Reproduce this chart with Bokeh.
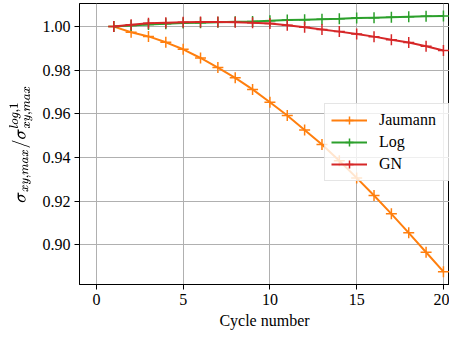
from bokeh.plotting import figure
from bokeh.models import Range1d, FixedTicker, Legend, CustomJSTickFormatter
from bokeh.embed import file_html
from bokeh.resources import INLINE

cycles = list(range(1, 21))
jaumann = [1.0000, 0.9974, 0.9955, 0.9928, 0.9896, 0.9856, 0.9812, 0.9765, 0.9712, 0.9653,
           0.9592, 0.9526, 0.9459, 0.9385, 0.9306, 0.9225, 0.9141, 0.9054, 0.8965, 0.8876]
log_ = [1.0000, 1.0005, 1.0010, 1.0013, 1.0016, 1.0018, 1.0020, 1.0022, 1.0024, 1.0027,
        1.0030, 1.0032, 1.0034, 1.0036, 1.0039, 1.0041, 1.0043, 1.0045, 1.0047, 1.0049]
gn = [1.0000, 1.0009, 1.0015, 1.0018, 1.0020, 1.0021, 1.0021, 1.0020, 1.0018, 1.0014,
      1.0006, 0.9997, 0.9987, 0.9977, 0.9966, 0.9954, 0.9940, 0.9927, 0.9910, 0.9890]
x_ticks = [0, 5, 10, 15, 20]
y_ticks = [0.90, 0.92, 0.94, 0.96, 0.98, 1.00]

FONT = "'Liberation Serif', serif"
FS = "16px"

p = figure(width=449, height=333, output_backend="svg", toolbar_location=None,
           x_range=Range1d(-0.975, 20.35), y_range=Range1d(0.8817, 1.0106),
           min_border_left=79, min_border_right=0, min_border_top=3, min_border_bottom=49)

p.outline_line_color = "black"
p.outline_line_width = 1
p.background_fill_color = "white"
p.border_fill_color = "white"

for ax in (p.xaxis[0], p.yaxis[0]):
    ax.major_label_text_font = FONT
    ax.major_label_text_font_size = FS
    ax.major_label_text_color = "black"
    ax.axis_label_text_font = FONT
    ax.axis_label_text_font_size = FS
    ax.axis_label_text_font_style = "normal"
    ax.axis_label_text_color = "black"
    ax.axis_line_color = "black"
    ax.major_tick_line_color = "black"
    ax.major_tick_out = 5
    ax.major_tick_in = 0
    ax.minor_tick_line_color = None
    ax.major_label_standoff = 4

p.xaxis.ticker = FixedTicker(ticks=x_ticks)
p.yaxis.ticker = FixedTicker(ticks=y_ticks)
p.yaxis.formatter = CustomJSTickFormatter(code="return tick.toFixed(2);")
p.xaxis.axis_label = "Cycle number"
p.xaxis.axis_label_standoff = 4
p.yaxis.axis_label = r"$$\sigma_{xy,max}/\sigma_{xy,max}^{log,1}$$"
p.yaxis.axis_label_standoff = 7

p.grid.grid_line_color = "#b0b0b0"
p.grid.grid_line_width = 1

series = [("Jaumann", jaumann, "#ff7f0e"), ("Log", log_, "#2ca02c"), ("GN", gn, "#d62728")]
items = []
for name, ys, col in series:
    r1 = p.line(cycles, ys, line_color=col, line_width=2)
    r2 = p.scatter(cycles, ys, marker="cross", size=11, line_color=col, line_width=1.5)
    items.append((name, [r1, r2]))

leg = Legend(items=items, location=(245, 103))
leg.label_text_font = FONT
leg.label_text_font_size = FS
leg.label_text_color = "black"
leg.glyph_width = 36
leg.glyph_height = 20
leg.label_height = 20
leg.label_width = 69
leg.label_standoff = 12
leg.spacing = 2
leg.padding = 6
leg.margin = 0
leg.border_line_color = "#cccccc"
leg.border_line_width = 1.5
leg.background_fill_alpha = 0.8
p.add_layout(leg)

open("out.html", "w").write(file_html(p, INLINE))
